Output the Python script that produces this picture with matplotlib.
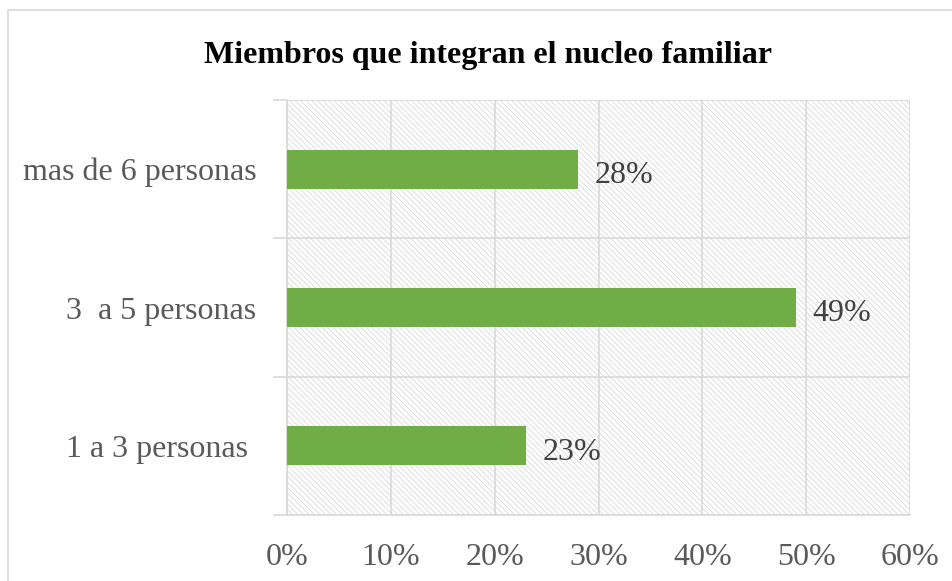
import matplotlib.pyplot as plt
from matplotlib.patches import Rectangle
from matplotlib.ticker import FuncFormatter

# datos del grafico
categorias = ['1 a 3 personas ', '3  a 5 personas', 'mas de 6 personas']
porcentajes = [0.23, 0.49, 0.28]
etiquetas = ['23%', '49%', '28%']
titulo = 'Miembros que integran el nucleo familiar'

plt.rcParams['font.family'] = ['Liberation Serif', 'DejaVu Serif']
plt.rcParams['hatch.color'] = '#d9d9d9'
plt.rcParams['hatch.linewidth'] = 0.6

fig = plt.figure(figsize=(9.53, 5.81), dpi=100)
ax = fig.add_axes([287 / 953, 66 / 581, 623 / 953, 415 / 581])

# marco exterior del grafico
fig.patches.append(Rectangle((8 / 953, -0.05), 1.2, (581 - 10) / 581 + 0.05,
                             transform=fig.transFigure, fill=False,
                             edgecolor='#d9d9d9', linewidth=1.2))

# fondo rayado del area de trazado
ax.add_patch(Rectangle((0, 0), 1, 1, transform=ax.transAxes, facecolor='white',
                       edgecolor='#d9d9d9', hatch='\\\\\\\\\\\\', linewidth=0, zorder=0))

pos = range(len(categorias))
ax.barh(pos, porcentajes, height=0.28, color='#70ad47', zorder=3)
for i, (v, t) in enumerate(zip(porcentajes, etiquetas)):
    ax.text(v + 0.016, i - 0.045, t, va='center', ha='left', fontsize=23, color='#404040', zorder=4)

ax.set_xlim(0, 0.6)
ax.set_ylim(-0.5, 2.5)
ax.set_xticks([0, 0.1, 0.2, 0.3, 0.4, 0.5, 0.6])
ax.xaxis.set_major_formatter(FuncFormatter(lambda x, _: f'{x * 100:.0f}%'))
ax.set_yticks(list(pos))
ax.set_yticklabels(categorias)
ax.set_yticks([-0.5, 0.5, 1.5, 2.5], minor=True)

ax.tick_params(axis='x', length=0, labelsize=23, labelcolor='#595959', pad=20)
ax.tick_params(axis='y', which='major', length=0, labelsize=23, labelcolor='#595959', pad=22)
ax.tick_params(axis='y', which='minor', length=10, color='#d9d9d9', width=1.2)

ax.grid(axis='x', color='#d9d9d9', linewidth=1.2, zorder=1)
ax.grid(axis='y', which='minor', color='#d9d9d9', linewidth=1.2, zorder=1)
for s in ['top', 'right']:
    ax.spines[s].set_visible(False)
for s in ['left', 'bottom']:
    ax.spines[s].set_color('#d9d9d9')
    ax.spines[s].set_linewidth(1.2)
ax.set_axisbelow(True)

fig.text(488 / 953, 1 - 55 / 581, titulo, ha='center', va='center',
         fontsize=23, fontweight='bold', color='black')

fig.savefig('out.png', dpi=100)
